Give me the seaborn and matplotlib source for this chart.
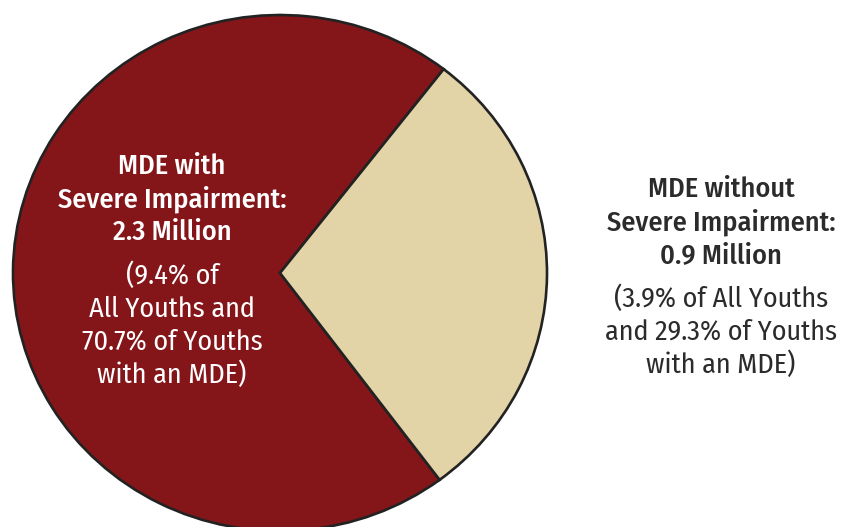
import matplotlib
matplotlib.use("Agg")
import matplotlib.pyplot as plt
import seaborn as sns

# data
categories = ["MDE with\nSevere Impairment", "MDE without\nSevere Impairment"]
millions = [2.3, 0.9]
pct_all_youths = [9.4, 3.9]
pct_youths_mde = [70.7, 29.3]
colors = ["#84161A", "#E3D4A7"]

sns.set_theme(style="white")
plt.rcParams["font.family"] = ["Fira Sans Condensed", "Liberation Sans", "DejaVu Sans"]

W, H = 844, 527
fig = plt.figure(figsize=(W / 100, H / 100), dpi=100)

# pie spans x 13..547 px and y 15..531 px (slightly squashed, cut at the bottom)
ax = fig.add_axes([13 / W, (H - 531) / H, 534 / W, 516 / H])
ax.pie(
    pct_youths_mde,
    colors=colors,
    startangle=52.2,
    counterclock=True,
    wedgeprops=dict(edgecolor="#222222", linewidth=1.9),
)
ax.set_aspect("auto")
ax.set_xlim(-1.0, 1.0)
ax.set_ylim(-1.0, 1.0)
ax.axis("off")
for p in ax.patches:
    p.set_clip_on(False)

# labels
head_left = f"{categories[0]}:\n{millions[0]} Million"
sub_left = f"({pct_all_youths[0]}% of\nAll Youths and\n{pct_youths_mde[0]}% of Youths\nwith an MDE)"
head_right = f"{categories[1]}:\n{millions[1]} Million"
sub_right = f"({pct_all_youths[1]}% of All Youths\nand {pct_youths_mde[1]}% of Youths\nwith an MDE)"

fs = 20.3
step = 33  # px between baselines


def block(x, y0, txt, color, weight):
    for i, line in enumerate(txt.split("\n")):
        fig.text(x / W, 1 - (y0 + i * step) / H, line, ha="center", va="baseline",
                 color=color, fontsize=fs, fontweight=weight)


block(172, 174, head_left, "white", 500)
block(172, 284, sub_left, "white", "normal")
block(721, 197, head_right, "#2b2b2b", 500)
block(721, 307, sub_right, "#2b2b2b", "normal")

fig.savefig("out.png", dpi=100, facecolor="white")
